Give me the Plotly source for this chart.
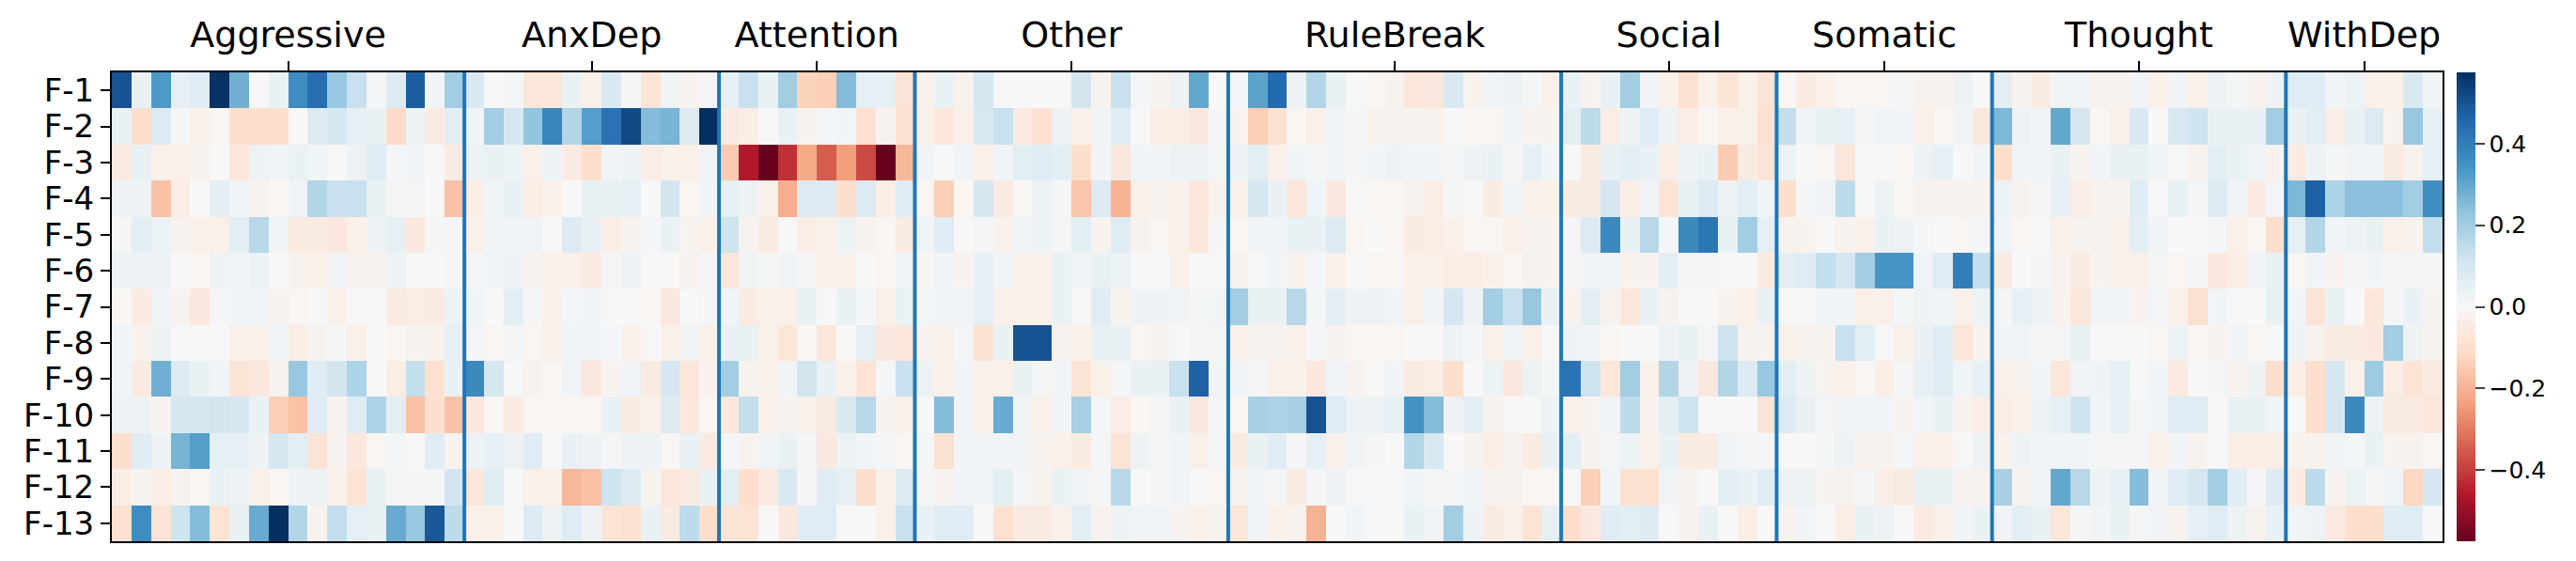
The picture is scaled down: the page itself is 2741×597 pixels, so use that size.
import plotly.graph_objects as go

# syndrome groups (columns) and factors (rows)
groups = ["Aggressive", "AnxDep", "Attention", "Other", "RuleBreak",
          "Social", "Somatic", "Thought", "WithDep"]
factors = ["F-%d" % i for i in range(1, 14)]

aggressive = [
    [0.5, 0.04, 0.33, 0.05, 0.07, 0.57, 0.28, 0.0, 0.04, 0.36, 0.44, 0.22, 0.13, 0.01, 0.08, 0.48, 0.02, 0.2],
    [0.04, -0.1, 0.08, 0.01, -0.03, -0.01, -0.1, -0.1, -0.1, 0.0, 0.08, 0.1, 0.05, 0.04, -0.11, 0.03, -0.05, 0.06],
    [-0.05, 0.04, -0.03, -0.03, -0.02, 0.0, -0.07, 0.03, 0.02, 0.04, 0.02, 0.0, 0.03, 0.07, 0.01, 0.02, 0.0, -0.05],
    [0.03, 0.03, -0.17, -0.04, 0.0, 0.06, 0.02, -0.02, -0.01, 0.02, 0.17, 0.13, 0.13, 0.04, 0.01, 0.01, 0.0, -0.17],
    [0.01, 0.06, 0.03, -0.02, -0.03, -0.03, 0.06, 0.16, 0.02, -0.05, -0.05, -0.06, -0.03, 0.03, 0.05, -0.06, 0.01, 0.01],
    [0.03, 0.03, 0.03, 0.0, -0.01, 0.03, 0.02, 0.03, 0.0, -0.02, -0.03, 0.02, -0.02, -0.02, 0.03, 0.0, 0.0, 0.01],
    [-0.01, -0.05, 0.02, -0.02, -0.06, 0.01, 0.02, 0.02, -0.02, -0.01, 0.0, -0.03, 0.0, 0.0, -0.05, -0.04, -0.05, 0.03],
    [0.02, -0.02, 0.03, 0.0, 0.0, 0.0, -0.03, -0.03, 0.02, -0.04, -0.02, 0.01, -0.03, 0.0, -0.01, -0.02, -0.02, 0.05],
    [0.02, -0.05, 0.28, 0.08, 0.04, 0.02, -0.08, -0.06, -0.02, 0.22, 0.07, 0.11, 0.18, 0.0, -0.04, 0.14, -0.09, 0.04],
    [0.03, 0.03, -0.02, 0.1, 0.1, 0.11, 0.1, 0.04, -0.14, -0.17, 0.07, -0.02, 0.07, 0.18, 0.06, -0.17, -0.1, -0.17],
    [-0.1, 0.07, 0.03, 0.27, 0.32, 0.05, 0.05, 0.03, 0.1, 0.06, -0.08, -0.02, -0.06, -0.01, 0.01, 0.0, 0.07, -0.02],
    [-0.04, -0.02, -0.04, -0.02, -0.01, 0.04, 0.03, -0.03, -0.01, 0.03, 0.03, -0.03, -0.08, 0.04, 0.01, 0.01, 0.01, 0.11],
    [-0.09, 0.36, -0.08, 0.12, 0.25, -0.08, 0.04, 0.29, 0.575, 0.17, -0.02, 0.14, 0.05, 0.04, 0.29, 0.22, 0.49, 0.15],
]

anxdep = [
    [0.09, 0.0, 0.01, -0.07, -0.07, 0.04, -0.03, 0.09, 0.01, -0.08, 0.02, -0.02, 0.01],
    [0.02, 0.2, 0.1, 0.23, 0.38, 0.17, 0.32, 0.43, 0.52, 0.25, 0.27, 0.08, 0.575],
    [0.03, 0.04, 0.03, -0.03, 0.03, -0.05, -0.1, 0.02, 0.03, -0.04, -0.03, -0.03, 0.02],
    [-0.04, 0.02, 0.04, -0.04, -0.03, 0.0, 0.04, 0.04, 0.05, 0.0, 0.11, -0.01, 0.02],
    [-0.03, 0.02, 0.02, 0.02, 0.0, 0.08, 0.04, -0.04, -0.02, 0.01, 0.04, -0.02, -0.03],
    [0.01, 0.02, 0.03, -0.02, -0.03, -0.03, -0.05, 0.01, 0.03, 0.0, 0.0, -0.02, 0.01],
    [0.02, 0.0, 0.06, 0.01, -0.03, 0.01, 0.02, 0.0, 0.0, -0.01, -0.06, 0.0, 0.01],
    [0.01, -0.01, 0.01, -0.01, -0.03, 0.02, 0.02, 0.01, -0.03, 0.0, -0.03, 0.02, -0.03],
    [0.37, 0.1, 0.0, -0.02, -0.01, 0.02, -0.06, -0.02, 0.02, -0.05, 0.1, -0.07, -0.02],
    [-0.06, -0.01, -0.05, -0.01, -0.01, -0.01, -0.01, 0.04, -0.05, -0.03, 0.08, -0.06, -0.01],
    [0.03, 0.05, 0.03, 0.07, 0.0, 0.04, 0.03, 0.01, 0.03, 0.03, -0.01, 0.04, -0.05],
    [-0.07, 0.07, 0.0, -0.03, -0.03, -0.19, -0.17, 0.12, 0.08, -0.02, -0.07, -0.05, 0.04],
    [-0.03, -0.03, 0.0, 0.08, 0.03, 0.07, 0.03, -0.08, -0.09, 0.04, -0.05, 0.15, -0.1],
]

attention = [
    [0.05, 0.13, 0.04, 0.2, -0.13, -0.14, 0.25, 0.05, 0.05, -0.08],
    [-0.05, -0.04, 0.0, 0.04, -0.02, 0.01, 0.02, -0.09, -0.02, -0.09],
    [-0.15, -0.46, -0.575, -0.42, -0.22, -0.35, -0.24, -0.38, -0.575, -0.19],
    [0.05, 0.03, -0.03, -0.21, 0.08, 0.08, -0.1, 0.08, -0.04, 0.07],
    [0.12, -0.02, -0.05, 0.0, -0.04, -0.03, 0.03, -0.02, -0.01, -0.05],
    [-0.07, 0.02, 0.01, 0.02, 0.01, -0.03, -0.03, 0.0, -0.01, 0.02],
    [0.02, -0.05, -0.03, -0.03, 0.04, 0.0, 0.04, 0.01, -0.03, 0.04],
    [0.04, 0.04, -0.03, -0.07, -0.01, -0.07, 0.0, 0.05, -0.06, -0.07],
    [0.2, -0.02, -0.03, 0.02, 0.11, 0.04, -0.03, -0.08, 0.01, 0.13],
    [-0.06, 0.14, -0.03, -0.02, -0.03, -0.05, 0.09, 0.16, -0.02, -0.03],
    [0.01, -0.02, 0.02, 0.04, 0.01, -0.06, 0.03, 0.02, 0.01, -0.01],
    [0.06, -0.1, -0.05, 0.09, 0.01, 0.07, 0.05, -0.1, -0.03, 0.08],
    [-0.08, -0.08, 0.0, -0.06, 0.07, 0.07, 0.0, 0.0, -0.03, 0.13],
]

other = [
    [-0.03, 0.04, -0.02, 0.1, 0.0, 0.0, 0.0, 0.0, 0.11, -0.02, 0.13, 0.01, -0.02, 0.03, 0.3, 0.0],
    [-0.03, -0.07, -0.03, 0.09, 0.13, -0.05, -0.09, 0.03, -0.03, 0.02, 0.07, 0.0, -0.04, -0.04, -0.06, 0.01],
    [0.02, 0.0, 0.02, -0.03, 0.02, 0.06, 0.07, 0.06, -0.1, 0.02, -0.06, 0.02, 0.02, 0.03, 0.03, 0.01],
    [-0.01, -0.14, -0.01, 0.1, -0.05, -0.01, 0.03, 0.01, -0.16, 0.08, -0.2, -0.03, -0.02, -0.03, -0.07, -0.02],
    [0.02, 0.07, 0.0, 0.01, -0.02, 0.02, 0.03, 0.01, 0.06, -0.02, 0.07, -0.02, -0.01, -0.03, -0.07, 0.01],
    [-0.01, 0.02, -0.02, 0.05, 0.02, -0.03, -0.03, 0.04, 0.02, 0.04, 0.03, 0.0, 0.0, -0.03, 0.0, 0.0],
    [0.01, 0.02, 0.02, 0.05, -0.03, -0.03, -0.03, 0.04, 0.0, 0.07, -0.02, 0.03, 0.03, 0.02, 0.01, 0.02],
    [-0.02, -0.03, 0.01, -0.09, 0.04, 0.5, 0.5, -0.02, -0.03, 0.04, 0.04, -0.01, -0.02, 0.0, 0.01, 0.01],
    [0.03, -0.03, 0.02, -0.03, -0.03, 0.04, 0.01, 0.02, -0.08, -0.03, 0.01, 0.04, 0.04, 0.13, 0.47, 0.02],
    [0.0, 0.25, 0.02, -0.03, 0.29, 0.02, -0.03, 0.02, 0.19, 0.01, -0.04, -0.01, 0.01, 0.04, -0.06, 0.01],
    [0.01, -0.09, 0.02, 0.02, 0.02, 0.02, -0.02, -0.03, -0.05, 0.01, -0.08, 0.03, 0.01, 0.02, -0.03, 0.01],
    [0.01, -0.02, 0.02, 0.02, 0.06, 0.01, -0.02, 0.04, 0.02, 0.01, 0.16, 0.0, 0.01, 0.02, 0.0, -0.01],
    [0.04, 0.07, 0.07, 0.0, -0.09, -0.05, -0.05, -0.03, 0.06, -0.02, 0.03, 0.02, 0.02, -0.02, -0.03, -0.02],
]

rulebreak = [
    [0.01, 0.31, 0.45, 0.03, 0.17, 0.04, 0.0, -0.01, -0.02, -0.07, -0.06, 0.09, -0.02, 0.02, 0.03, 0.01, -0.03],
    [-0.02, -0.14, -0.09, -0.01, -0.03, 0.02, 0.01, -0.02, -0.02, -0.02, -0.02, 0.0, -0.01, -0.01, 0.02, -0.02, -0.02],
    [0.03, 0.06, -0.03, 0.02, 0.01, 0.02, 0.01, 0.02, 0.03, 0.02, 0.02, 0.01, 0.03, 0.04, 0.01, 0.05, 0.02],
    [-0.03, 0.1, 0.04, -0.07, 0.02, -0.06, 0.0, -0.01, -0.01, -0.02, -0.04, 0.01, 0.0, -0.05, 0.02, -0.03, -0.03],
    [-0.01, 0.02, 0.02, 0.04, 0.04, 0.08, -0.01, 0.0, -0.01, -0.05, -0.04, -0.03, -0.01, -0.01, -0.03, -0.02, -0.02],
    [-0.02, 0.0, 0.02, -0.02, 0.01, -0.03, 0.0, -0.01, -0.01, -0.03, -0.03, -0.04, -0.04, -0.03, -0.01, -0.02, -0.02],
    [0.2, 0.04, 0.04, 0.16, 0.01, 0.06, 0.03, 0.03, 0.02, -0.03, 0.02, 0.1, 0.03, 0.2, 0.13, 0.22, 0.04],
    [-0.03, -0.02, -0.02, -0.03, 0.01, -0.02, -0.01, -0.01, -0.01, 0.0, 0.0, 0.03, 0.01, -0.03, 0.02, -0.03, 0.0],
    [0.02, 0.01, -0.03, -0.03, -0.06, 0.02, -0.02, 0.0, 0.02, -0.05, -0.04, -0.1, 0.0, 0.03, -0.06, 0.03, 0.01],
    [-0.01, 0.19, 0.18, 0.19, 0.5, 0.07, 0.03, 0.03, 0.05, 0.35, 0.25, 0.03, 0.06, -0.02, 0.0, 0.0, 0.03],
    [-0.05, 0.04, 0.07, 0.01, 0.05, -0.03, 0.02, 0.01, 0.0, 0.17, 0.09, 0.0, -0.02, -0.04, -0.02, -0.05, 0.04],
    [-0.02, 0.02, 0.01, -0.05, 0.01, 0.03, 0.0, 0.0, 0.0, 0.02, 0.01, 0.01, 0.02, -0.02, -0.02, -0.01, -0.01],
    [-0.07, 0.02, -0.03, -0.02, -0.2, 0.0, 0.02, 0.0, 0.0, 0.04, 0.02, 0.2, 0.03, -0.05, -0.03, -0.08, 0.05],
]

social = [
    [0.04, -0.02, 0.04, 0.2, 0.02, -0.03, -0.09, -0.03, -0.08, -0.03, -0.08],
    [0.06, 0.15, -0.04, 0.03, 0.07, 0.03, -0.04, -0.01, -0.03, -0.03, -0.09],
    [0.0, -0.05, 0.04, 0.06, 0.04, -0.04, 0.03, 0.04, -0.15, -0.05, -0.08],
    [-0.05, -0.05, 0.1, -0.04, 0.02, -0.08, 0.04, 0.08, 0.03, 0.06, 0.02],
    [0.01, 0.08, 0.37, 0.04, 0.16, 0.01, 0.37, 0.42, 0.04, 0.2, 0.05],
    [0.01, 0.02, 0.02, -0.02, -0.02, 0.06, 0.01, 0.01, 0.0, 0.0, -0.05],
    [-0.02, 0.06, -0.02, -0.07, 0.04, -0.02, 0.0, 0.0, -0.02, -0.03, 0.04],
    [0.03, 0.02, -0.01, 0.0, 0.0, 0.03, 0.04, 0.01, 0.12, -0.02, -0.02],
    [0.43, 0.12, -0.07, 0.2, -0.03, 0.17, 0.03, -0.06, 0.17, 0.08, 0.22],
    [-0.03, -0.02, 0.02, 0.15, -0.02, 0.06, 0.12, 0.0, 0.0, 0.0, -0.08],
    [0.06, -0.02, 0.01, 0.03, -0.03, 0.04, -0.05, -0.05, 0.02, 0.01, 0.01],
    [0.0, -0.14, 0.02, -0.09, -0.09, 0.02, -0.02, 0.0, 0.06, 0.04, 0.07],
    [-0.1, -0.06, 0.07, 0.06, 0.08, 0.0, -0.02, 0.04, 0.0, -0.04, 0.0],
]

somatic = [
    [-0.01, -0.05, -0.03, -0.01, -0.01, -0.01, 0.01, -0.02, -0.02, 0.03, 0.0],
    [0.14, 0.02, 0.04, 0.05, 0.01, 0.02, 0.02, -0.03, -0.01, 0.02, -0.06],
    [0.03, 0.0, -0.01, -0.07, 0.0, 0.0, -0.01, 0.03, 0.05, 0.0, 0.02],
    [-0.1, 0.01, 0.02, 0.15, 0.0, 0.03, -0.01, -0.02, -0.02, -0.02, -0.02],
    [-0.02, -0.02, 0.0, -0.02, -0.03, 0.04, 0.03, 0.01, 0.0, -0.01, 0.01],
    [0.06, 0.07, 0.14, 0.1, 0.2, 0.34, 0.34, 0.02, 0.07, 0.4, 0.14],
    [0.0, 0.0, 0.02, 0.02, -0.03, -0.03, 0.01, 0.03, 0.02, -0.03, 0.03],
    [-0.03, -0.02, -0.02, 0.13, 0.06, 0.0, -0.03, 0.04, 0.07, -0.07, -0.02],
    [0.06, 0.03, -0.02, -0.03, -0.01, -0.04, 0.01, 0.05, 0.07, 0.02, 0.05],
    [0.08, 0.04, 0.01, 0.02, 0.02, 0.02, -0.02, 0.02, 0.04, -0.02, -0.04],
    [0.0, 0.0, 0.01, 0.03, -0.02, -0.02, 0.01, -0.03, -0.03, 0.0, 0.03],
    [0.03, 0.03, -0.02, -0.02, 0.01, -0.04, -0.05, 0.04, 0.04, -0.02, -0.02],
    [-0.02, 0.02, 0.0, -0.04, 0.04, 0.03, 0.0, -0.05, -0.03, 0.02, 0.04],
]

thought = [
    [0.06, -0.02, -0.05, 0.02, 0.02, -0.02, -0.02, 0.02, -0.03, 0.02, -0.03, 0.03, 0.01, -0.02, 0.03],
    [0.26, 0.03, 0.02, 0.3, 0.1, -0.01, -0.03, 0.09, 0.0, 0.09, 0.12, 0.04, 0.04, 0.04, 0.2],
    [-0.1, 0.02, 0.02, 0.04, -0.02, 0.02, 0.04, 0.04, 0.02, 0.0, -0.02, 0.06, 0.04, 0.02, -0.02],
    [0.03, -0.02, 0.01, 0.05, -0.04, -0.02, -0.02, 0.07, 0.0, 0.04, 0.01, 0.08, 0.02, -0.05, 0.01],
    [0.02, -0.01, 0.0, -0.03, -0.02, -0.02, -0.03, 0.06, 0.02, 0.0, 0.0, 0.01, -0.03, -0.01, -0.1],
    [-0.05, 0.0, 0.01, -0.02, -0.05, -0.02, -0.03, -0.03, 0.01, -0.01, 0.01, -0.06, -0.04, 0.02, 0.04],
    [0.01, 0.05, 0.03, -0.02, -0.07, 0.02, 0.02, -0.02, 0.01, -0.03, -0.09, 0.02, 0.0, 0.0, 0.04],
    [0.02, 0.02, 0.01, 0.01, 0.04, 0.0, 0.0, 0.0, -0.01, 0.03, -0.01, -0.02, 0.02, -0.01, 0.0],
    [-0.03, -0.02, 0.02, -0.07, 0.02, 0.03, 0.05, 0.0, 0.02, -0.05, 0.0, 0.01, -0.02, 0.03, -0.1],
    [-0.04, -0.03, 0.03, 0.05, 0.12, 0.02, 0.05, 0.01, 0.02, 0.07, 0.07, 0.0, 0.04, 0.04, 0.02],
    [-0.02, 0.03, 0.02, 0.02, 0.02, 0.01, 0.01, 0.01, -0.03, 0.02, -0.02, 0.0, -0.04, -0.04, -0.04],
    [0.19, -0.02, 0.02, 0.3, 0.16, 0.03, 0.05, 0.25, 0.02, 0.07, 0.1, 0.2, 0.07, 0.01, 0.08],
    [0.02, 0.06, 0.04, -0.07, 0.01, 0.02, 0.04, 0.01, 0.02, -0.02, 0.05, 0.07, 0.03, -0.02, 0.04],
]

withdep = [
    [0.07, 0.07, 0.02, 0.03, -0.03, -0.03, 0.09, 0.02],
    [0.04, 0.06, -0.04, 0.04, 0.08, -0.02, 0.22, 0.05],
    [-0.05, 0.03, 0.01, 0.02, 0.02, -0.05, -0.02, 0.05],
    [0.26, 0.47, 0.18, 0.24, 0.24, 0.24, 0.2, 0.36],
    [0.05, 0.17, 0.02, 0.03, 0.04, -0.03, -0.02, 0.14],
    [-0.01, 0.02, -0.02, 0.01, 0.02, 0.01, 0.01, 0.01],
    [0.02, -0.08, 0.04, 0.0, -0.07, 0.01, 0.04, -0.02],
    [0.03, -0.02, -0.05, -0.05, -0.06, 0.2, 0.03, -0.02],
    [-0.04, -0.1, 0.1, -0.03, 0.21, -0.04, -0.08, -0.05],
    [0.0, -0.1, 0.1, 0.37, 0.03, -0.05, -0.05, -0.07],
    [-0.02, -0.02, 0.02, 0.01, 0.04, -0.02, -0.02, -0.01],
    [-0.05, 0.15, -0.02, 0.03, 0.01, 0.02, -0.12, 0.1],
    [0.02, 0.03, -0.05, -0.1, -0.1, 0.07, 0.07, 0.0],
]

cbar_ticks = [-0.4, -0.2, 0.0, 0.2, 0.4]

blocks = [aggressive, anxdep, attention, other, rulebreak,
          social, somatic, thought, withdep]

# stitch the groups side by side
z = []
for r in range(len(factors)):
    row = []
    for b in blocks:
        row.extend(b[r])
    z.append(row)

sizes = [len(b[0]) for b in blocks]
n_cols = sum(sizes)

centers = []
bounds = []
start = 0
for n in sizes:
    centers.append(start + n / 2 - 0.5)
    start += n
    bounds.append(start - 0.5)
bounds = bounds[:-1]

# matplotlib RdBu
rdbu = ["rgb(103,0,31)", "rgb(178,24,43)", "rgb(214,96,77)", "rgb(244,165,130)",
        "rgb(253,219,199)", "rgb(247,247,247)", "rgb(209,229,240)",
        "rgb(146,197,222)", "rgb(67,147,195)", "rgb(33,102,172)", "rgb(5,48,97)"]
colorscale = [[i / (len(rdbu) - 1), c] for i, c in enumerate(rdbu)]

fig = go.Figure(
    go.Heatmap(
        z=z,
        x=list(range(n_cols)),
        y=list(range(len(factors))),
        colorscale=colorscale,
        zmin=-0.575,
        zmax=0.575,
        colorbar=dict(
            x=1.006, xanchor="left", xpad=0,
            y=0.5, yanchor="middle", len=1, ypad=0,
            thickness=20, outlinewidth=0,
            ticks="outside", ticklen=10, tickwidth=2,
            tickvals=cbar_ticks,
            ticktext=["\u2212%.1f" % -t if t < 0 else "%.1f" % t for t in cbar_ticks],
            tickfont=dict(size=25, color="black"),
        ),
    )
)

for b in bounds:
    fig.add_shape(type="line", xref="x", yref="paper", x0=b, x1=b, y0=0, y1=1,
                  line=dict(color="#1f77b4", width=4))

fig.update_layout(
    width=2741,
    height=597,
    margin=dict(l=119, r=142, t=77, b=21),
    paper_bgcolor="white",
    plot_bgcolor="white",
    font=dict(family="DejaVu Sans", color="black"),
    xaxis=dict(
        side="top",
        range=[-0.5, n_cols - 0.5],
        tickvals=centers,
        ticktext=groups,
        ticks="outside", ticklen=10, tickwidth=2, tickcolor="black",
        tickfont=dict(size=38),
        showgrid=False, zeroline=False,
        showline=True, mirror=True, linecolor="black", linewidth=2,
    ),
    yaxis=dict(
        range=[len(factors) - 0.5, -0.5],
        tickvals=list(range(len(factors))),
        ticktext=factors,
        ticks="outside", ticklen=10, tickwidth=2, tickcolor="black",
        tickfont=dict(size=34),
        showgrid=False, zeroline=False,
        showline=True, mirror=True, linecolor="black", linewidth=2,
    ),
)

# drop the default page margin so the figure sits at the window origin
fig.write_html("out.html", config={"displayModeBar": False},
               post_script="document.body.style.margin='0';")
